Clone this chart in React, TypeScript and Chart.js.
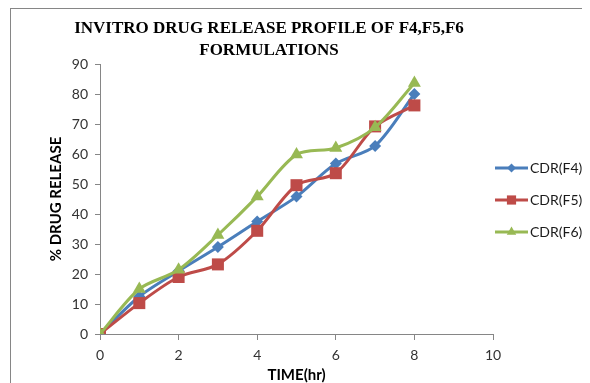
import React, { useEffect, useRef } from 'react';
import { Chart, registerables } from 'chart.js';

Chart.register(...registerables);

const TITLE_LINES = ['INVITRO DRUG RELEASE PROFILE OF F4,F5,F6', 'FORMULATIONS'];
const X_TITLE = 'TIME(hr)';
const Y_TITLE = '% DRUG RELEASE';
const TIME_HR = [0, 1, 2, 3, 4, 5, 6, 7, 8];
const CDR_F4 = [0, 12.5, 21, 29, 37.5, 45.8, 56.8, 62.7, 80];
const CDR_F5 = [0, 10.3, 19, 23.2, 34.4, 49.6, 53.6, 69.2, 76.2];
const CDR_F6 = [0, 15, 21.4, 33, 45.8, 59.8, 62, 68.9, 83.7];
const SERIES_LABELS = ['CDR(F4)', 'CDR(F5)', 'CDR(F6)'];
const X_MIN = 0, X_MAX = 10, X_STEP = 2;
const Y_MIN = 0, Y_MAX = 90, Y_STEP = 10;

const COLORS = ['#4A7EBB', '#BE4B48', '#98B954'];
const STYLES = ['rectRot', 'rect', 'triangle'];
const RADII = [6, 8.5, 7.5];
const LEGEND_RADII = [4.5, 6.5, 5.5];

function drawMarker(ctx: CanvasRenderingContext2D, style: string, x: number, y: number, r: number, color: string) {
  ctx.save();
  ctx.fillStyle = color;
  ctx.beginPath();
  if (style === 'rectRot') {
    ctx.moveTo(x, y - r);
    ctx.lineTo(x + r, y);
    ctx.lineTo(x, y + r);
    ctx.lineTo(x - r, y);
  } else if (style === 'rect') {
    const s = r * Math.SQRT1_2;
    ctx.rect(x - s, y - s, 2 * s, 2 * s);
  } else {
    ctx.moveTo(x, y - r);
    ctx.lineTo(x + r * 0.866, y + r * 0.5);
    ctx.lineTo(x - r * 0.866, y + r * 0.5);
  }
  ctx.closePath();
  ctx.fill();
  ctx.restore();
}

const decorPlugin = {
  id: 'decor',
  beforeDraw(chart: any) {
    const ctx = chart.ctx;
    ctx.save();
    ctx.fillStyle = '#ffffff';
    ctx.fillRect(0, 0, chart.width, chart.height);
    ctx.strokeStyle = '#868686';
    ctx.lineWidth = 1;
    ctx.strokeRect(2.5, 0.5, chart.width + 10, chart.height + 10);
    ctx.restore();
  },
  afterDraw(chart: any) {
    const ctx = chart.ctx;
    ctx.save();
    ctx.fillStyle = '#000000';
    ctx.font = 'bold 17px "Liberation Serif", "Times New Roman", serif';
    ctx.textAlign = 'center';
    ctx.textBaseline = 'alphabetic';
    TITLE_LINES.forEach((t, i) => ctx.fillText(t, 261, 25 + i * 22));
    const ds = chart.data.datasets;
    ds.forEach((d: any, i: number) => {
      const cy = 160 + i * 32;
      ctx.strokeStyle = COLORS[i];
      ctx.lineWidth = 3;
      ctx.beginPath();
      ctx.moveTo(487, cy);
      ctx.lineTo(520, cy);
      ctx.stroke();
      drawMarker(ctx, STYLES[i], 503.5, cy, LEGEND_RADII[i], COLORS[i]);
      ctx.fillStyle = '#1a1a1a';
      ctx.font = '14px Lato, "Open Sans", sans-serif';
      ctx.textAlign = 'left';
      ctx.textBaseline = 'middle';
      ctx.fillText(d.label, 522, cy + 0.5);
    });
    ctx.restore();
  },
};

export default function App() {
  const ref = useRef<HTMLCanvasElement | null>(null);
  useEffect(() => {
    if (!ref.current) return;
    const seriesValues = [CDR_F4, CDR_F5, CDR_F6];
    const chart = new Chart(ref.current, {
      type: 'line',
      data: {
        datasets: seriesValues.map((vals, i) => ({
          label: SERIES_LABELS[i],
          data: TIME_HR.map((t, j) => ({ x: t, y: vals[j] })),
          borderColor: COLORS[i],
          backgroundColor: COLORS[i],
          borderWidth: 3,
          pointStyle: STYLES[i] as any,
          pointRadius: RADII[i],
          pointBorderWidth: 0,
          pointBackgroundColor: COLORS[i],
          tension: 0.3,
          fill: false,
          order: 3 - i,
        })),
      },
      options: {
        responsive: false,
        animation: false,
        events: [],
        layout: { padding: { top: 56, left: 0, right: 97, bottom: 0 } },
        plugins: {
          legend: { display: false },
          title: { display: false },
          tooltip: { enabled: false },
        },
        scales: {
          x: {
            type: 'linear',
            min: X_MIN,
            max: X_MAX,
            afterFit: (s: any) => { s.height = 49; },
            ticks: {
              stepSize: X_STEP,
              color: '#333333',
              padding: 7,
              font: { family: 'Lato', size: 14 },
            },
            grid: { drawOnChartArea: false, drawTicks: true, tickLength: 6, color: '#868686' },
            border: { color: '#868686', width: 1 },
            title: {
              display: true,
              text: X_TITLE,
              color: '#000000',
              font: { family: 'Lato', size: 15, weight: 'bold' },
              padding: { top: 0, bottom: -1 },
            },
          },
          y: {
            type: 'linear',
            min: Y_MIN,
            max: Y_MAX,
            afterFit: (s: any) => { s.width = 92; },
            ticks: {
              stepSize: Y_STEP,
              color: '#333333',
              padding: 7,
              font: { family: 'Lato', size: 14 },
            },
            grid: { drawOnChartArea: false, drawTicks: true, tickLength: 5, color: '#868686' },
            border: { color: '#868686', width: 1 },
            title: {
              display: true,
              text: Y_TITLE,
              color: '#000000',
              font: { family: 'Lato', size: 15, weight: 'bold' },
              padding: { top: 39, bottom: 0 },
            },
          },
        },
      },
      plugins: [decorPlugin],
    });
    return () => chart.destroy();
  }, []);
  return (
    <div style={{ width: 582, height: 375 }}>
      <canvas ref={ref} width={582} height={375} style={{ display: 'block' }} />
    </div>
  );
}
